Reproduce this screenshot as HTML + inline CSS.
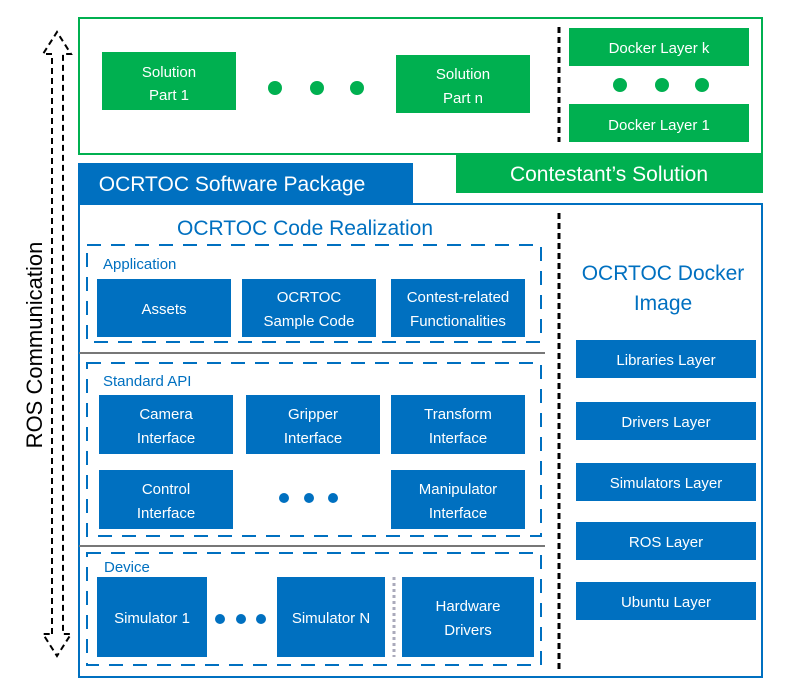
<!DOCTYPE html>
<html><head><meta charset="utf-8"><style>
body{margin:0;background:#fff;}
svg text{font-family:"Liberation Sans",sans-serif;}
</style></head><body>
<svg width="800" height="689" viewBox="0 0 800 689" xmlns="http://www.w3.org/2000/svg">
<g font-family="Liberation Sans, sans-serif" text-anchor="middle">
<rect x="79" y="18" width="683" height="136" fill="none" stroke="#00b050" stroke-width="2"/>
<rect x="456" y="153" width="307" height="40" fill="#00b050"/>
<text x="609" y="181" font-size="21" fill="#fff">Contestant’s Solution</text>
<rect x="102" y="52" width="134" height="58" fill="#00b050"/>
<text x="169" y="77" font-size="15" fill="#fff">Solution</text>
<text x="169" y="100" font-size="15" fill="#fff">Part 1</text>
<rect x="396" y="55" width="134" height="58" fill="#00b050"/>
<text x="463" y="79" font-size="15" fill="#fff">Solution</text>
<text x="463" y="103" font-size="15" fill="#fff">Part n</text>
<g fill="#00b050"><circle cx="275" cy="88" r="7"/><circle cx="317" cy="88" r="7"/><circle cx="357" cy="88" r="7"/>
<circle cx="620" cy="85" r="7"/><circle cx="662" cy="85" r="7"/><circle cx="702" cy="85" r="7"/></g>
<line x1="559" y1="27" x2="559" y2="142" stroke="#000" stroke-width="3" stroke-dasharray="6,4"/>
<rect x="569" y="28" width="180" height="38" fill="#00b050"/>
<text x="659" y="53" font-size="15" fill="#fff">Docker Layer k</text>
<rect x="569" y="104" width="180" height="38" fill="#00b050"/>
<text x="659" y="130" font-size="15" fill="#fff">Docker Layer 1</text>
<rect x="78" y="163" width="335" height="41" fill="#0070c0"/>
<text x="232" y="191" font-size="21" fill="#fff">OCRTOC Software Package</text>
<rect x="79" y="204" width="683" height="473" fill="none" stroke="#0070c0" stroke-width="2"/>
<text x="305" y="235" font-size="21" fill="#0070c0">OCRTOC Code Realization</text>
<line x1="559" y1="213" x2="559" y2="670" stroke="#000" stroke-width="3" stroke-dasharray="6,4"/>
<text x="663" y="280" font-size="21" fill="#0070c0">OCRTOC Docker</text>
<text x="663" y="310" font-size="21" fill="#0070c0">Image</text>
<g fill="#0070c0">
<rect x="576" y="340" width="180" height="38"/><rect x="576" y="402" width="180" height="38"/>
<rect x="576" y="463" width="180" height="38"/><rect x="576" y="522" width="180" height="38"/>
<rect x="576" y="582" width="180" height="38"/>
</g>
<g font-size="15" fill="#fff">
<text x="666" y="365">Libraries Layer</text><text x="666" y="427">Drivers Layer</text>
<text x="666" y="488">Simulators Layer</text><text x="666" y="547">ROS Layer</text>
<text x="666" y="607">Ubuntu Layer</text>
</g>
<g fill="none" stroke="#0070c0" stroke-width="2" stroke-dasharray="14,10">
<rect x="87" y="245" width="454" height="97"/>
<rect x="87" y="363" width="454" height="173"/>
<rect x="87" y="553" width="454" height="112"/>
</g>
<line x1="79" y1="353" x2="545" y2="353" stroke="#777" stroke-width="2"/>
<line x1="79" y1="546" x2="545" y2="546" stroke="#777" stroke-width="2"/>
<g font-size="15" fill="#0070c0" text-anchor="start">
<text x="103" y="269">Application</text><text x="103" y="386">Standard API</text><text x="104" y="572">Device</text>
</g>
<g fill="#0070c0">
<rect x="97" y="279" width="134" height="58"/><rect x="242" y="279" width="134" height="58"/><rect x="391" y="279" width="134" height="58"/>
<rect x="99" y="395" width="134" height="59"/><rect x="246" y="395" width="134" height="59"/><rect x="391" y="395" width="134" height="59"/>
<rect x="99" y="470" width="134" height="59"/><rect x="391" y="470" width="134" height="59"/>
<rect x="97" y="577" width="110" height="80"/><rect x="277" y="577" width="108" height="80"/><rect x="402" y="577" width="132" height="80"/>
<circle cx="284" cy="498" r="5"/><circle cx="309" cy="498" r="5"/><circle cx="333" cy="498" r="5"/>
<circle cx="220" cy="619" r="5"/><circle cx="241" cy="619" r="5"/><circle cx="261" cy="619" r="5"/>
</g>
<line x1="394" y1="577" x2="394" y2="657" stroke="#aab" stroke-width="3" stroke-dasharray="3,3"/>
<g font-size="15" fill="#fff">
<text x="164" y="314">Assets</text>
<text x="309" y="302">OCRTOC</text><text x="309" y="326">Sample Code</text>
<text x="458" y="302">Contest-related</text><text x="458" y="326">Functionalities</text>
<text x="166" y="419">Camera</text><text x="166" y="443">Interface</text>
<text x="313" y="419">Gripper</text><text x="313" y="443">Interface</text>
<text x="458" y="419">Transform</text><text x="458" y="443">Interface</text>
<text x="166" y="494">Control</text><text x="166" y="518">Interface</text>
<text x="458" y="494">Manipulator</text><text x="458" y="518">Interface</text>
<text x="152" y="623">Simulator 1</text><text x="331" y="623">Simulator N</text>
<text x="468" y="611">Hardware</text><text x="468" y="635">Drivers</text>
</g>
<g fill="none" stroke="#000" stroke-width="2" stroke-dasharray="6,4">
<polyline points="52,634 52,54 43,54 57,32 71,54 63,54 63,634 71,634 57,656 43,634 52,634"/>
</g>
<text x="0" y="0" font-size="22" fill="#000" transform="translate(42,345) rotate(-90)">ROS Communication</text>
</g>
</svg>
</body></html>
